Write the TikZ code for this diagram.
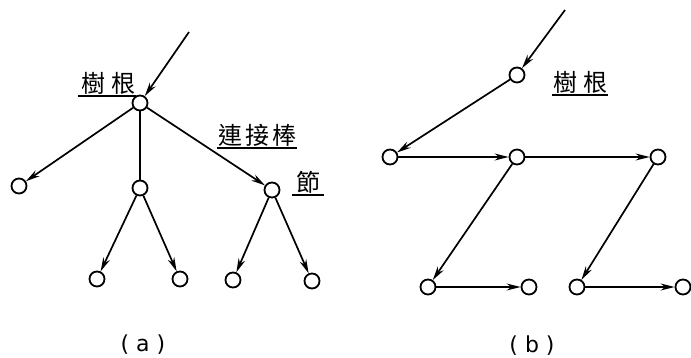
\documentclass[tikz,border=0pt]{standalone}
\usepackage{fontspec}
\newfontfamily\cjk{Noto Sans CJK TC}
\setmainfont{DejaVu Sans}
\usetikzlibrary{arrows.meta}
\begin{document}
\begin{tikzpicture}[x=1pt,y=-1pt,
  nd/.style={circle,draw,line width=1.8pt,minimum size=15pt,inner sep=0pt,fill=white},
  edge/.style={line width=1.7pt,-{Stealth[length=14pt,width=7pt]}},
  plain/.style={line width=1.7pt},
  lab/.style={font=\cjk\fontsize{24}{24}\selectfont,inner sep=1pt},
  captxt/.style={font=\fontsize{22}{22}\selectfont}]
\useasboundingbox (0,0) rectangle (691,358);
% (a)
\node[nd] (r) at (140,103) {};
\coordinate (rin) at (189,32);
\node[nd] (l1) at (19,186) {};
\node[nd] (m) at (140,188) {};
\node[nd] (n) at (272,190) {};
\node[nd] (m1) at (97,279) {};
\node[nd] (m2) at (180,279) {};
\node[nd] (n1) at (233,280) {};
\node[nd] (n2) at (312,281) {};
\draw[edge] (rin) -- (r);
\draw[edge] (r) -- (l1);
\draw[plain] (r) -- (m);
\draw[edge] (r) -- (n);
\draw[edge] (m) -- (m1);
\draw[edge] (m) -- (m2);
\draw[edge] (n) -- (n1);
\draw[edge] (n) -- (n2);
\node[lab,anchor=south] (ta) at (108,96) {樹\hspace{6pt}根};
\draw[line width=1.5pt] ([xshift=-2pt]ta.south west) -- (ta.south east);
\node[lab,anchor=south] (tb) at (257,148) {連\hspace{3pt}接\hspace{3pt}棒};
\draw[line width=1.5pt] (tb.south west) -- (tb.south east);
\node[lab,anchor=south] (tc) at (308,195) {節};
\draw[line width=1.5pt] ([xshift=-3pt]tc.south west) -- ([xshift=3pt]tc.south east);
\node[captxt] (ca) at (143,345) {( a )};
% (b)
\node[nd] (t) at (517,75) {};
\coordinate (tin) at (565,10);
\node[nd] (a) at (390,157) {};
\node[nd] (b) at (517,157) {};
\node[nd] (c) at (658,157) {};
\node[nd] (d) at (428,287) {};
\node[nd] (e) at (529,287) {};
\node[nd] (f) at (577,287) {};
\node[nd] (g) at (683,287) {};
\draw[edge] (tin) -- (t);
\draw[edge] (t) -- (a);
\draw[edge] (a) -- (b);
\draw[edge] (b) -- (c);
\draw[edge] (b) -- (d);
\draw[edge] (d) -- (e);
\draw[edge] (c) -- (f);
\draw[edge] (f) -- (g);
\node[lab,anchor=south] (td) at (580,95) {樹\hspace{6pt}根};
\draw[line width=1.5pt] (td.south west) -- (td.south east);
\node[captxt] (cb) at (532,346) {( b )};
\end{tikzpicture}
\end{document}
